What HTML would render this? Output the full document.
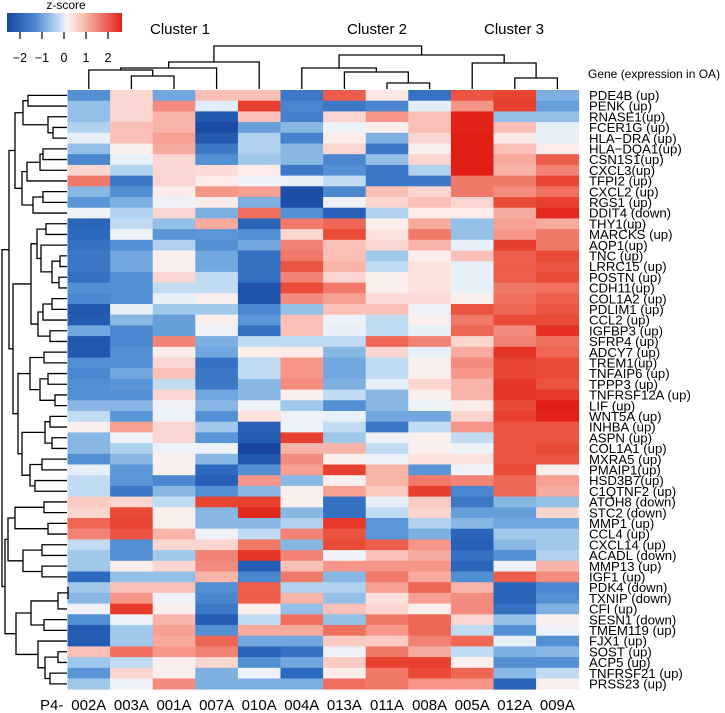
<!DOCTYPE html>
<html><head><meta charset="utf-8">
<style>
html,body{margin:0;padding:0;background:#fff;}
svg{display:block;font-family:"Liberation Sans",Arial,sans-serif;}
</style></head>
<body>
<svg id="chart" width="725" height="713" viewBox="0 0 725 713" xmlns="http://www.w3.org/2000/svg">
  <defs>
    <linearGradient id="zgrad" x1="0" x2="1" y1="0" y2="0">
      <stop offset="0" stop-color="#18469e"/>
      <stop offset="0.25" stop-color="#4f8bd0"/>
      <stop offset="0.45" stop-color="#c3daf1"/>
      <stop offset="0.52" stop-color="#faf5f5"/>
      <stop offset="0.7" stop-color="#f6aea2"/>
      <stop offset="1" stop-color="#e0221a"/>
    </linearGradient>
  </defs>
  <g>
    <text x="66" y="9" font-size="12" text-anchor="middle">z-score</text>
    <rect x="7" y="13" width="115" height="19" fill="url(#zgrad)"/>
  </g>
  <g id="legendTicks"></g>
  <text x="180" y="34" font-size="15" text-anchor="middle">Cluster 1</text>
  <text x="377" y="34" font-size="15" text-anchor="middle">Cluster 2</text>
  <text x="514" y="34" font-size="15" text-anchor="middle">Cluster 3</text>
  <text x="588" y="78" font-size="12">Gene (expression in OA)</text>
  <g id="cells"></g>
  <g id="coldendro" stroke="#000" stroke-width="1.3" fill="none"></g>
  <g id="rowdendro" stroke="#000" stroke-width="1.3" fill="none"></g>
  <g id="rowlabels"></g>
  <g id="collabels">
    <text x="40" y="710" font-size="15">P4-</text>
  </g>
</svg>
<script>
const genes = ["PDE4B (up)","PENK (up)","RNASE1(up)","FCER1G (up)","HLA\u2212DRA (up)","HLA\u2212DQA1(up)","CSN1S1(up)","CXCL3(up)","TFPI2 (up)","CXCL2 (up)","RGS1 (up)","DDIT4 (down)","THY1(up)","MARCKS (up)","AQP1(up)","TNC (up)","LRRC15 (up)","POSTN (up)","CDH11(up)","COL1A2 (up)","PDLIM1 (up)","CCL2 (up)","IGFBP3 (up)","SFRP4 (up)","ADCY7 (up)","TREM1(up)","TNFAIP6 (up)","TPPP3 (up)","TNFRSF12A (up)","LIF (up)","WNT5A (up)","INHBA (up)","ASPN (up)","COL1A1 (up)","MXRA5 (up)","PMAIP1(up)","HSD3B7(up)","C1QTNF2 (up)","ATOH8 (down)","STC2 (down)","MMP1 (up)","CCL4 (up)","CXCL14 (up)","ACADL (down)","MMP13 (up)","IGF1 (up)","PDK4 (down)","TXNIP (down)","CFI (up)","SESN1 (down)","TMEM119 (up)","FJX1 (up)","SOST (up)","ACP5 (up)","TNFRSF21 (up)","PRSS23 (up)"];
const samples = ["002A","003A","001A","007A","010A","004A","013A","011A","008A","005A","012A","009A"];
const legendTicks = [-2,-1,0,1,2];
const zvalues = [
[-1.3,0.4,-1.0,0.6,0.6,-1.6,1.6,0.2,-1.7,1.7,1.9,-0.9],
[-0.7,0.4,1.1,-0.2,2.0,-1.4,-1.6,-1.4,-0.2,1.0,2.0,-1.1],
[-0.7,0.4,0.7,-2.2,0.6,-1.5,0.4,1.0,0.6,2.5,-0.7,-0.7],
[-0.5,0.6,0.7,-2.5,-1.1,-0.8,-0.1,0.1,0.6,2.5,0.6,-0.15],
[-0.15,0.6,0.9,-2.2,-0.5,-1.5,0.15,-0.9,0.4,2.6,0.15,-0.15],
[-0.7,0.1,0.8,-1.6,-0.5,-0.8,0.4,-1.6,0.1,2.6,0.6,0.15],
[-1.4,-0.15,0.4,-1.3,-0.6,-0.8,-1.4,-0.7,0.4,2.6,0.8,1.6],
[0.4,-0.5,0.4,0.35,0.15,-1.6,-1.3,-1.6,-0.5,2.6,0.7,1.2],
[1.3,-1.6,0.4,0.15,-0.1,-0.15,-0.4,-1.6,-1.6,1.3,1.3,1.9],
[-0.8,-1.3,0.15,1.0,0.9,-2.4,-1.4,0.6,0.4,1.3,1.1,1.4],
[-1.2,-0.9,-0.1,0.15,-0.9,-2.4,-0.1,0.4,0.6,0.4,1.8,2.0],
[-0.1,-0.5,0.4,-0.9,1.4,-1.3,-2.0,-0.5,0.15,0.15,0.8,2.4],
[-1.9,-0.4,-0.7,0.8,-1.9,1.3,1.5,0.1,0.8,-0.7,0.9,0.8],
[-1.8,-0.1,-1.2,-1.2,-1.3,0.4,1.8,0.3,1.3,-0.7,1.0,1.3],
[-1.7,-1.3,-0.5,-1.3,-1.0,1.2,0.6,0.4,0.7,-0.15,2.0,1.3],
[-1.6,-1.0,0.1,-1.0,-1.7,1.3,0.6,-0.6,0.1,0.6,1.6,1.8],
[-1.6,-1.0,0.1,-1.0,-1.7,1.7,0.7,-0.4,0.3,-0.15,1.6,1.7],
[-1.7,-1.3,0.4,-0.4,-1.7,1.2,0.4,0.1,0.3,-0.15,1.6,1.8],
[-1.3,-1.3,-0.4,-0.4,-2.3,1.8,1.3,0.1,0.3,-0.15,1.3,1.4],
[-1.4,-1.3,-0.15,0.1,-2.3,1.1,0.9,0.35,0.35,0.1,1.4,1.6],
[-2.2,-0.15,-0.6,-0.6,-1.4,-0.7,0.6,0.6,-0.1,1.7,1.5,1.7],
[-2.1,-0.8,-1.1,0.1,-1.2,0.6,-0.1,-0.4,0.1,1.3,1.8,1.8],
[-1.0,-1.4,-1.1,-0.1,-1.7,0.6,-0.15,-0.4,-0.15,1.5,1.1,2.3],
[-2.2,-1.4,1.2,-0.9,-0.4,-0.4,-0.4,1.5,1.2,0.4,1.2,1.4],
[-2.2,-1.3,0.15,-1.0,0.1,0.15,-0.8,0.4,-0.15,0.8,2.2,1.5],
[-1.3,-1.3,0.4,-1.7,-0.4,1.0,-1.0,-0.4,0.1,1.1,1.9,1.8],
[-1.4,-1.0,0.6,-1.6,-0.4,1.0,-1.0,-0.4,0.1,1.0,1.9,1.8],
[-1.3,-1.2,-0.4,-1.6,-0.8,1.1,-0.9,-0.15,0.4,0.7,2.2,1.7],
[-1.3,-1.3,0.4,-1.0,-0.8,0.1,-0.4,-0.8,0.1,0.7,2.2,2.1],
[-0.8,-0.8,-0.1,-0.8,-0.1,-0.6,-1.3,-0.8,-0.1,0.15,1.8,2.7],
[-0.4,-1.2,-0.1,-1.3,0.3,-0.1,-0.15,-1.0,-1.0,0.4,2.0,2.5],
[0.1,0.9,0.4,-0.6,-2.0,-0.1,-0.4,-1.6,-0.4,1.0,1.7,1.7],
[-0.8,-0.1,0.4,-1.2,-2.1,2.0,-0.6,-0.1,0.1,-0.4,1.7,1.7],
[-0.8,-0.5,-0.1,-0.1,-2.6,0.7,0.7,-0.4,0.1,-0.1,1.7,1.8],
[-1.3,-0.8,0.1,-0.8,-2.2,1.1,0.1,-0.1,0.3,0.3,1.7,1.7],
[-0.15,-1.2,0.1,-1.8,-1.3,0.9,2.0,0.7,-1.2,-0.1,1.8,0.1],
[-0.4,-1.2,-1.4,-2.0,1.0,-0.8,0.1,0.7,1.3,1.2,1.5,0.9],
[-0.4,-1.6,-0.8,-1.3,-0.8,0.1,0.9,0.5,2.0,-1.4,1.5,0.8],
[0.5,0.4,-0.4,1.9,2.0,0.1,-1.7,-0.15,0.5,-1.6,-0.8,-0.7],
[0.4,1.8,0.1,-0.8,2.4,-0.8,-1.7,-0.4,0.4,-1.1,-1.1,0.4],
[1.5,1.9,0.1,-0.8,-0.8,-0.5,2.1,-1.2,-0.5,-0.8,-1.0,-1.0],
[1.2,1.7,0.7,-0.1,-0.4,1.2,1.7,-1.2,-0.9,-1.9,-0.6,-0.6],
[-0.4,-1.3,0.4,0.4,1.3,-0.8,1.8,1.6,1.0,-2.0,-0.8,-0.6],
[-0.6,-1.3,-0.6,1.2,2.2,1.2,-0.1,0.6,0.8,-1.7,-1.3,-0.5],
[-0.6,0.1,0.4,1.1,-2.1,0.6,1.0,1.0,1.0,-1.9,-0.1,0.7],
[-1.8,-0.7,-0.7,0.7,-1.4,1.3,-0.8,1.3,0.8,-1.3,1.6,1.1],
[-0.6,0.6,0.6,-1.3,1.6,-0.5,-0.5,0.9,1.5,0.7,-1.9,-1.4],
[-0.8,1.0,-0.1,-1.4,1.6,0.7,-0.7,0.3,0.9,1.1,-1.9,-1.3],
[-0.1,2.1,0.1,-1.6,0.1,-0.7,0.6,0.4,0.1,1.1,-1.7,-0.9],
[-1.3,-0.1,0.7,-2.1,-0.4,1.4,-0.7,1.3,1.5,0.4,-0.7,0.1],
[-2.1,-0.6,0.9,-1.3,0.8,0.8,1.4,1.0,1.5,-0.4,-1.3,-0.1],
[-2.1,-0.6,0.8,1.5,-1.0,-1.0,0.5,0.5,1.2,1.5,-0.15,-1.3],
[0.6,1.4,1.0,1.2,-1.9,-1.7,-0.1,1.3,0.8,-0.4,-0.9,-0.8],
[-0.6,-0.4,0.1,0.4,-1.3,-1.0,0.5,2.0,2.0,0.1,-1.3,-1.3],
[-1.2,0.4,0.1,-0.9,-0.1,-1.8,0.15,1.3,1.8,1.5,-0.8,-0.4],
[-0.6,-0.1,1.1,-0.9,-0.9,-0.9,1.4,1.3,1.0,1.0,-1.9,0.1]
];
// dendrogram merge trees: [left, right, mergeCoord]; leaves are row/col indices
const colTree = [[[[0,[1,2,76],70],3,68],4,62],[[5,[6,[7,8,83],72],68],[9,[10,11,78],63],55],46];
const rowTree = [
  [[[[0,1,28],[2,[3,4,53],48],23],[[[[5,6,43],7,40],8,27],[[9,10,43],11,33],22],15],
   [[[[12,13,46],[14,[[15,16,60],[17,18,59],52],41],37],[[[19,20,52],21,43],[22,23,50],38],31],
    [[[24,25,44],[[26,27,48],[28,29,55],40],30],[[[30,31,50],[32,33,52],45],[[34,35,42],[36,37,35],30],22],18],13],9],
  [[[[38,39,44],[40,41,48],15],[[42,43,42],[44,45,42],23],8],
   [[[[46,47,68],48,58],[49,50,44],31],[51,[[52,53,58],[54,55,50],45],38],16],5],
  2];

const NS = "http://www.w3.org/2000/svg";
const X0 = 67.5, CW = 42.6, Y0 = 90, RH = 10.7;
const xCol = j => X0 + j * CW;
const yRow = i => Y0 + i * RH;
const stops = [[-2.6,[24,70,160]],[-1.8,[45,105,190]],[-1.2,[90,150,215]],[-0.6,[160,200,235]],[-0.2,[225,238,250]],[0,[250,246,246]],[0.3,[252,225,220]],[0.7,[249,180,170]],[1.2,[242,130,115]],[1.8,[234,75,55]],[2.6,[225,30,20]]];
function colorOf(v){
  if (v <= stops[0][0]) return "rgb(" + stops[0][1].join(",") + ")";
  for (let k = 1; k < stops.length; k++) {
    if (v <= stops[k][0]) {
      const a = stops[k-1], b = stops[k], t = (v - a[0]) / (b[0] - a[0]);
      const c = a[1].map((q, n) => Math.round(q + (b[1][n] - q) * t));
      return "rgb(" + c.join(",") + ")";
    }
  }
  return "rgb(" + stops[stops.length-1][1].join(",") + ")";
}
function mk(tag, attrs, parent){
  const e = document.createElementNS(NS, tag);
  for (const k in attrs) e.setAttribute(k, attrs[k]);
  parent.appendChild(e);
  return e;
}
// cells
const cellsG = document.getElementById("cells");
zvalues.forEach((row, i) => row.forEach((v, j) => {
  const r = mk("rect", {x: xCol(j), y: yRow(i), width: CW + 0.4, height: RH + 0.4, fill: colorOf(v)}, cellsG);
  
  
}));
// gene labels
const rlG = document.getElementById("rowlabels");
genes.forEach((g, i) => {
  const t = mk("text", {x: 589, y: yRow(i) + RH/2 + 4.6, "font-size": 13.2}, rlG);
  t.textContent = g;
  
  
});
// sample labels
const clG = document.getElementById("collabels");
samples.forEach((s, j) => {
  const t = mk("text", {x: xCol(j) + CW/2, y: 710, "font-size": 15, "text-anchor": "middle"}, clG);
  t.textContent = s;
  
  
});
// legend ticks
const ltG = document.getElementById("legendTicks");
const legX = v => 64 + v * 22;
legendTicks.forEach(v => {
  const l = mk("line", {x1: legX(v), x2: legX(v), y1: 32, y2: 39, stroke: "#000", "stroke-width": 1.2}, ltG);
  
  
  const t = mk("text", {x: legX(v), y: 62, "font-size": 12.5, "text-anchor": "middle"}, ltG);
  t.textContent = v < 0 ? "\u2212" + Math.abs(v) : String(v);
  
  
});
// row dendrogram (horizontal)
const rdG = document.getElementById("rowdendro");
function drawRow(node){
  if (typeof node === "number") return {p: yRow(node) + RH/2, h: 67};
  const a = drawRow(node[0]), b = drawRow(node[1]), h = node[2];
  const path = mk("path", {d: `M${a.h},${a.p}H${h}V${b.p}H${b.h}`}, rdG);
  
  
  return {p: (a.p + b.p) / 2, h: h};
}
drawRow(rowTree);
// column dendrogram (vertical)
const cdG = document.getElementById("coldendro");
function drawCol(node){
  if (typeof node === "number") return {p: xCol(node) + CW/2, h: 89};
  const a = drawCol(node[0]), b = drawCol(node[1]), h = node[2];
  const path = mk("path", {d: `M${a.p},${a.h}V${h}H${b.p}V${b.h}`}, cdG);
  
  
  return {p: (a.p + b.p) / 2, h: h};
}
drawCol(colTree);
</script>
</body></html>
